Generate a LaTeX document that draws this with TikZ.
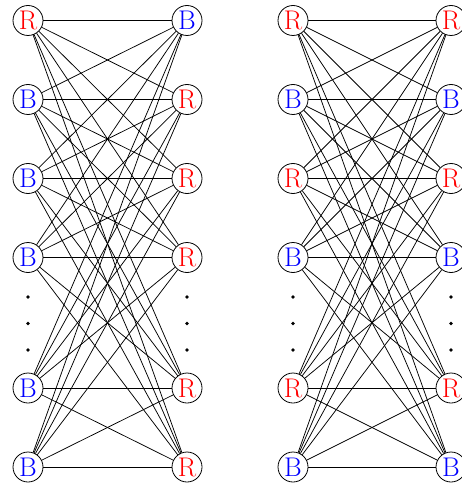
\documentclass[tikz,border=0pt]{standalone}
\begin{document}
\begin{tikzpicture}[x=1pt,y=1pt,
  vtx/.style={circle,draw,line width=0.8pt,minimum size=30pt,inner sep=0pt,fill=white,font=\fontsize{27}{27}\selectfont},
  rv/.style={vtx,text=red},
  bv/.style={vtx,text=blue},
  edge/.style={line width=0.75pt},
  dotm/.style={circle,fill,inner sep=0pt,minimum size=3.6pt}]
\useasboundingbox (0,0) rectangle (462,-489);
% left graph
\node[rv] (a1) at (28,-20.5) {R};
\node[bv] (a2) at (28,-99.5) {B};
\node[bv] (a3) at (28,-178.5) {B};
\node[bv] (a4) at (28,-257.5) {B};
\node[bv] (a5) at (28,-388) {B};
\node[bv] (a6) at (28,-467) {B};
\node[bv] (b1) at (187,-20.5) {B};
\node[rv] (b2) at (187,-99.5) {R};
\node[rv] (b3) at (187,-178.5) {R};
\node[rv] (b4) at (187,-257.5) {R};
\node[rv] (b5) at (187,-388) {R};
\node[rv] (b6) at (187,-467) {R};
% right graph
\node[rv] (c1) at (293,-20.5) {R};
\node[bv] (c2) at (293,-99.5) {B};
\node[rv] (c3) at (293,-178.5) {R};
\node[bv] (c4) at (293,-257.5) {B};
\node[rv] (c5) at (293,-388) {R};
\node[bv] (c6) at (293,-467) {B};
\node[rv] (d1) at (451,-20.5) {R};
\node[bv] (d2) at (451,-99.5) {B};
\node[rv] (d3) at (451,-178.5) {R};
\node[bv] (d4) at (451,-257.5) {B};
\node[rv] (d5) at (451,-388) {R};
\node[bv] (d6) at (451,-467) {B};
% edges
\foreach \i in {1,...,6}{
  \foreach \j in {1,...,6}{
    \draw[edge] (a\i) -- (b\j);
    \draw[edge] (c\i) -- (d\j);
  }
}
% dots
\foreach \col/\x in {a/28,b/187,c/293,d/451}{
  \node[dotm] (\col dA) at (\x,-297) {};
  \node[dotm] (\col dB) at (\x,-323.5) {};
  \node[dotm] (\col dC) at (\x,-350) {};
}
\end{tikzpicture}
\end{document}
